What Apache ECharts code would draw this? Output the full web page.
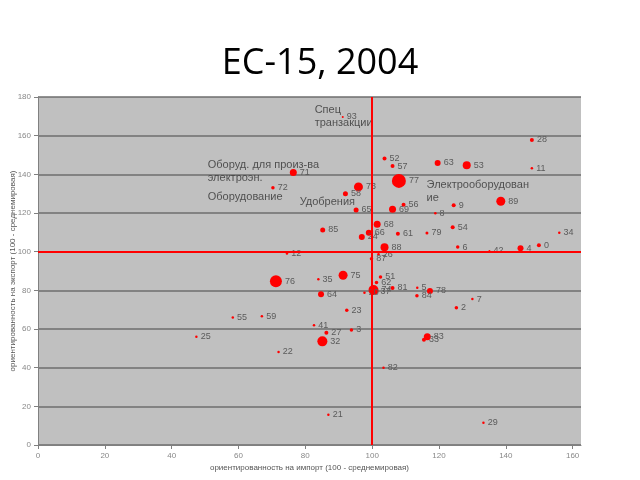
<!DOCTYPE html>
<html>
<head>
<meta charset="utf-8">
<script src="https://cdn.jsdelivr.net/npm/echarts@6/dist/echarts.min.js"></script>
<style>html,body{margin:0;padding:0;background:#fff}#c{width:640px;height:480px}</style>
</head>
<body>
<div id="c"></div>
<script>
// HS chapter codes
const codes = ['93','52','57','71','72','73','58','65','77','28','63','53','11','56','69','9','89','8','68','66','24','85','61','79','54','34','88','6','4','0','26','87','42','12','76','35','75','51','62','74','37','20','81','5','78','84','7','2','64','23','55','59','41','27','3','32','25','22','83','33','82','21','29'];
// import orientation (x, 100 = world average)
const importIdx = [91.2,103.7,106.1,76.4,70.3,95.9,92.0,95.2,108.0,147.8,119.6,128.3,147.8,109.4,106.1,124.4,138.5,118.9,101.5,99.0,96.9,85.2,107.7,116.4,124.1,156.0,103.7,125.6,144.4,149.9,101.9,99.8,135.1,74.5,71.2,83.9,91.3,102.5,101.3,100.4,101.1,97.7,106.1,113.5,117.3,113.4,130.0,125.2,84.7,92.4,58.3,67.0,82.6,86.3,93.8,85.1,47.4,72.0,116.5,115.5,103.4,86.9,133.3];
// export orientation (y, 100 = world average)
const exportIdx = [169.7,148.2,144.3,140.9,133.1,133.5,129.9,121.6,136.6,157.8,145.9,144.7,143.1,124.3,121.9,124.0,126.1,119.9,114.2,109.8,107.6,111.2,109.3,109.7,112.6,109.8,102.3,102.4,101.8,103.3,98.7,96.4,100.4,99.0,84.7,85.7,87.8,86.9,84.1,80.2,79.2,78.8,81.2,81.4,79.7,77.2,75.5,71.0,78.0,69.7,65.9,66.6,61.9,58.1,59.5,53.6,56.0,48.1,56.0,54.5,40.0,15.7,11.5];
// relative weight of each chapter (bubble magnitude)
const weight = [2,4,4,7,3.5,9,5,5,14,4,6,8,2.5,4,7,4,9,2.5,7,6,6,5,4,3,4,2.5,8,3.5,6,4,2.5,3.5,2,2.5,12,2.5,9,3.5,3.5,10,3.5,2.5,4,2.5,6,3.5,2.5,3.5,6,3.5,2.5,2.5,2.5,4,3.5,10,2.5,2.5,7,4,2.5,2.5,2.5];
// annotation texts and their anchor (data coordinates)
const noteTexts = ['Спец\nтранзакции','Оборуд. для произ-ва\nэлектроэн.','Оборудование','Удобрения','Электрооборудован\nие'];
const noteX = [82.8,50.8,50.8,78.3,116.3];
const noteY = [169.7,141.5,128.3,125.7,131.1];
const xTicks = [0,20,40,60,80,100,120,140,160];

const pts = codes.map((c,i)=>({value:[importIdx[i],exportIdx[i],weight[i]],name:c}));
const notes = noteTexts.map((t,i)=>({value:[noteX[i],noteY[i]],name:t}));

const chart = echarts.init(document.getElementById('c'),null,{renderer:'canvas'});
const font = 'Liberation Sans, Arial, sans-serif';
chart.setOption({
  animation:false,
  backgroundColor:'#ffffff',
  title:{text:'ЕС-15, 2004',left:'center',top:41,textStyle:{fontSize:36,fontWeight:'normal',color:'#000',fontFamily:'Open Sans, Liberation Sans, sans-serif'}},
  grid:{left:38,right:59,top:97,bottom:35,show:true,backgroundColor:'#c0c0c0',borderWidth:0,outerBoundsMode:'none',containLabel:false},
  xAxis:{type:'value',min:0,max:162.5,
    name:'ориентированность на импорт (100 - среднемировая)',nameLocation:'middle',nameGap:19,nameMoveOverlap:false,
    nameTextStyle:{fontSize:8,color:'#555',fontFamily:font},
    axisLine:{show:true,lineStyle:{color:'#808080',width:1}},
    axisTick:{show:true,customValues:xTicks,length:4,lineStyle:{color:'#808080'}},
    axisLabel:{customValues:xTicks,fontSize:8,color:'#888',margin:7,fontFamily:font},
    splitLine:{show:false}},
  yAxis:{type:'value',min:0,max:180,interval:20,
    name:'ориентированность на экспорт (100 - среднемировая)',nameLocation:'middle',nameGap:21,nameMoveOverlap:false,
    nameTextStyle:{fontSize:8,color:'#555',fontFamily:font},
    axisLine:{show:true,lineStyle:{color:'#808080',width:1}},
    axisTick:{show:true,length:4,lineStyle:{color:'#808080'}},
    axisLabel:{fontSize:8,color:'#888',margin:7,fontFamily:font},
    splitLine:{show:true,lineStyle:{color:'#6e6e6e',width:1.5}}},
  series:[
    {type:'scatter',data:pts,
      symbolSize:v=>v[2],
      itemStyle:{color:'#ff0000',opacity:1},
      label:{show:true,position:'right',distance:3,formatter:p=>p.name,fontSize:9,color:'#5a5a5a',fontFamily:font},
      markLine:{silent:true,symbol:['none','none'],label:{show:false},
        lineStyle:{color:'#ff0000',width:2,type:'solid'},
        data:[{xAxis:100},{yAxis:100}]},
      z:3},
    {type:'scatter',data:notes,symbolSize:0,
      label:{show:true,position:'inside',align:'left',verticalAlign:'middle',formatter:p=>p.name,
        fontSize:11,lineHeight:13,color:'#333',fontFamily:font},
      z:4}
  ]
});
</script>
</body>
</html>
